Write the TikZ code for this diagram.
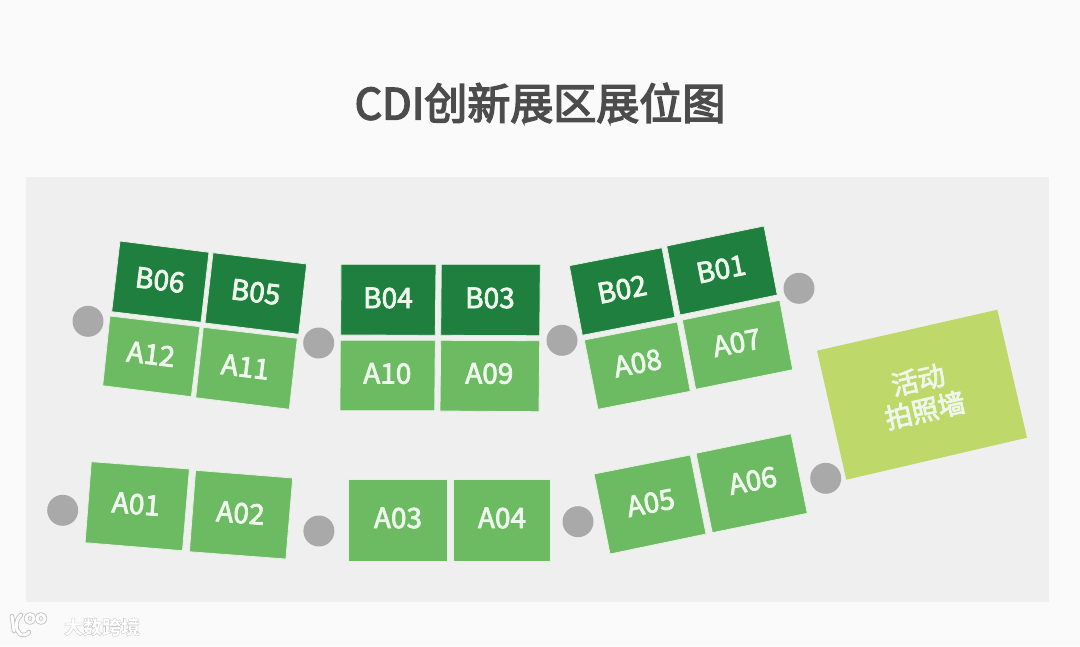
\documentclass[tikz,border=0pt]{standalone}
\usepackage{fontspec}
\setmainfont{Noto Sans CJK SC}
\definecolor{pagebg}{HTML}{FAFAFA}
\definecolor{panelbg}{HTML}{EFEFEF}
\definecolor{darkgreen}{HTML}{1F7F3F}
\definecolor{midgreen}{HTML}{6CBA62}
\definecolor{wallgreen}{HTML}{BFD86A}
\definecolor{pointgrey}{HTML}{A9A9A9}
\definecolor{labelwhite}{HTML}{EDF7EA}
\definecolor{titlegrey}{HTML}{4C4C4C}
\definecolor{markgrey}{HTML}{C4C4C4}
\definecolor{halo}{HTML}{E4F3E0}
\newcommand{\labelstroke}[1]{\special{pdf:code q 0.93 0.97 0.92 RG 0.93 0.97 0.92 rg 0.8 w 2 Tr}#1\special{pdf:code 0 Tr Q}}
\newcommand{\titlestroke}[1]{\special{pdf:code q 0.3 0.3 0.3 RG 0.3 0.3 0.3 rg 1.5 w 2 Tr}#1\special{pdf:code 0 Tr Q}}
\newcommand{\markstroke}[1]{\special{pdf:code q 0.76 0.76 0.76 RG 1 1 1 rg 0.3 w 2 Tr}#1\special{pdf:code 0 Tr Q}}
\tikzset{
  boothB/.style={fill=darkgreen,draw=halo,line width=0.8pt},
  boothA/.style={fill=midgreen,draw=halo,line width=0.8pt},
  walla/.style={fill=wallgreen},
  boothlabel/.style={text=labelwhite,font=\fontsize{28}{32}\selectfont,inner sep=0pt},
  point/.style={circle,fill=pointgrey,minimum size=31pt,inner sep=0pt},
  logoline/.style={line cap=round,line join=round,fill=none}
}
\begin{document}
\begin{tikzpicture}[x=1pt,y=-1pt]
\useasboundingbox (0,0) rectangle (1080,646);
\fill[pagebg] (0,0) rectangle (1080,646);
\fill[panelbg] (26,177) rectangle (1049,602);
\node[text=titlegrey,font=\fontsize{43}{50}\selectfont,inner sep=0pt] (title) at (540,103) {\titlestroke{CDI创新展区展位图}};
% booths
\filldraw[boothB] (120,241)--(209,252.3)--(201,322.3)--(111.7,311.7)--cycle;
\filldraw[boothB] (213,252.7)--(306.7,264)--(298.7,334.3)--(205,323)--cycle;
\filldraw[boothA] (110,316)--(200,326.7)--(191.3,396.7)--(102.7,385.7)--cycle;
\filldraw[boothA] (203.3,327.3)--(297.3,338.3)--(289.3,409.3)--(195.7,397.7)--cycle;
\filldraw[boothB] (341,264.3)--(436,264.3)--(435.3,335.3)--(340.7,335)--cycle;
\filldraw[boothB] (441.3,264.3)--(540.3,264.3)--(539.7,335.7)--(440.7,335.3)--cycle;
\filldraw[boothA] (340.3,340.3)--(435.3,340.3)--(434.7,410.7)--(340,410.7)--cycle;
\filldraw[boothA] (440.7,340.3)--(539.7,340.7)--(539,411.7)--(440,411)--cycle;
\filldraw[boothB] (569.3,265.7)--(662,247.7)--(675,317.3)--(582.3,335.3)--cycle;
\filldraw[boothB] (666.7,246)--(764,226)--(777.3,295)--(680,315)--cycle;
\filldraw[boothA] (584.3,340)--(677.3,322)--(690.3,391.3)--(598,409.3)--cycle;
\filldraw[boothA] (682.3,320)--(779.7,300.3)--(792.7,369.7)--(695.7,389.3)--cycle;
\fill[walla] (817,350.7)--(997.3,309.7)--(1027,437.7)--(846.3,479.7)--cycle;
\filldraw[boothA] (594,474)--(690.3,455)--(706,534)--(610,554)--cycle;
\filldraw[boothA] (696,453.3)--(791,433.7)--(807.3,513.3)--(712.3,532.7)--cycle;
\filldraw[boothA] (91.3,461.7)--(189.4,469)--(182.5,550.7)--(85.1,542.7)--cycle;
\filldraw[boothA] (195.6,470.3)--(292.7,478)--(285.9,559)--(189.4,551.7)--cycle;
\filldraw[boothA] (348.6,479)--(447,479)--(447,561)--(348.6,561)--cycle;
\filldraw[boothA] (453.2,479)--(550.4,479)--(550.4,561)--(453.2,561)--cycle;
% labels
\node[boothlabel,rotate=-7] (b06) at (160,280) {\labelstroke{B06}};
\node[boothlabel,rotate=-7] (b05) at (255.7,292) {\labelstroke{B05}};
\node[boothlabel,rotate=-7] (a12) at (151,354) {\labelstroke{A12}};
\node[boothlabel,rotate=-7] (a11) at (245.3,366.7) {\labelstroke{A11}};
\node[boothlabel] (b04) at (388,298) {\labelstroke{B04}};
\node[boothlabel] (b03) at (490,298) {\labelstroke{B03}};
\node[boothlabel] (a10) at (387.3,373.5) {\labelstroke{A10}};
\node[boothlabel] (a09) at (489.3,373.5) {\labelstroke{A09}};
\node[boothlabel,rotate=11] (b02) at (622,289.3) {\labelstroke{B02}};
\node[boothlabel,rotate=11] (b01) at (721,269) {\labelstroke{B01}};
\node[boothlabel,rotate=11] (a08) at (637.7,363) {\labelstroke{A08}};
\node[boothlabel,rotate=11] (a07) at (736.7,342.7) {\labelstroke{A07}};
\node[boothlabel,rotate=11] (a05) at (650.7,502.7) {\labelstroke{A05}};
\node[boothlabel,rotate=11] (a06) at (752.7,480.5) {\labelstroke{A06}};
\node[boothlabel,rotate=-4.5] (a01) at (136,504) {\labelstroke{A01}};
\node[boothlabel,rotate=-4.5] (a02) at (240.5,513) {\labelstroke{A02}};
\node[boothlabel] (a03) at (398,518) {\labelstroke{A03}};
\node[boothlabel] (a04) at (502,518) {\labelstroke{A04}};
\node[boothlabel,rotate=12.8,align=center,font=\fontsize{27}{31}\selectfont] (wall) at (921.5,395) {\labelstroke{活动}\\\labelstroke{拍照墙}};
% points
\node[point] (p1) at (88,321.3) {};
\node[point] (p2) at (318.7,343) {};
\node[point] (p3) at (562,340.3) {};
\node[point] (p4) at (799,288.3) {};
\node[point] (p5) at (825.7,478.3) {};
\node[point] (p6) at (578,521.7) {};
\node[point] (p7) at (318.9,531) {};
\node[point] (p8) at (62.7,510.3) {};
% watermark
\foreach \w/\c in {4.6/markgrey,2.8/white}{
  \draw[logoline,line width=\w pt,draw=\c] (12,616)--(14,631);
  \draw[logoline,line width=\w pt,draw=\c] (21,615) .. controls (15,620) and (15,630) .. (20,634) .. controls (23,636) and (27,635) .. (29,632);
  \draw[logoline,line width=\w pt,draw=\c] (30,618.5) circle (4);
  \draw[logoline,line width=\w pt,draw=\c] (41,618.5) circle (4);
}
\node[inner sep=0pt,font=\fontsize{19}{22}\selectfont\bfseries] (mark) at (102,627) {\markstroke{大数跨境}};
\end{tikzpicture}
\end{document}
